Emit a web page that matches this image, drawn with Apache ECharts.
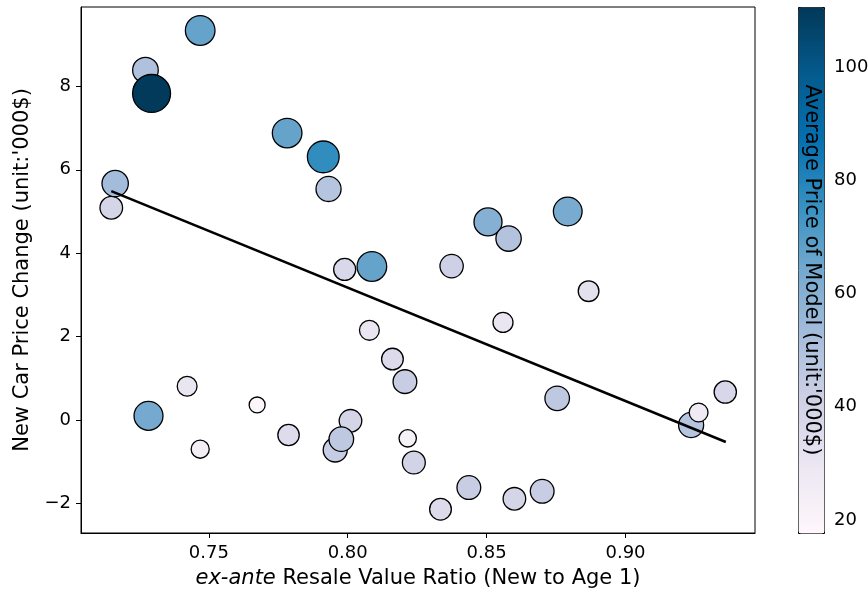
<!DOCTYPE html>
<html>
<head>
<meta charset="utf-8">
<script src="https://cdn.jsdelivr.net/npm/echarts@6/dist/echarts.min.js"></script>
<style>html,body{margin:0;padding:0;background:#fff;}#c{width:868px;height:594px;}</style>
</head>
<body>
<div id="c"></div>
<script>
// Resale value ratio (x), new car price change (y, '000$), average model price ('000$)
const resaleRatio = [0.7469,0.7272,0.7294,0.7782,0.7912,0.7931,0.7149,0.7163,0.7989,0.8087,
  0.7283,0.7422,0.7469,0.7674,0.7787,0.8010,0.7955,0.7977,0.8078,0.8161,0.8206,0.8216,0.8238,
  0.8505,0.8579,0.8792,0.8374,0.8867,0.8559,0.8754,0.9236,0.9263,0.9359,0.8436,0.8334,0.8600,0.8700];
const priceChange = [9.34,8.39,7.83,6.88,6.31,5.54,5.09,5.67,3.61,3.68,
  0.10,0.81,-0.70,0.36,-0.36,-0.02,-0.72,-0.46,2.15,1.46,0.92,-0.44,-1.02,
  4.75,4.35,5.00,3.69,3.09,2.34,0.52,-0.12,0.18,0.67,-1.62,-2.14,-1.89,-1.71];
const avgPrice = [67,50,110,67,77,48,39,53,37,67,
  64,30,25,19.5,35,39,44,46,30,36,43,23,40,
  60,49,63,41.5,32.6,30.5,46,48,27,38,43,36,39,43];
// fitted line endpoints
const fitX = [0.7149, 0.9361];
const fitY = [5.49, -0.528];
const xTicks = [0.75, 0.80, 0.85, 0.90];
const yTicks = [-2, 0, 2, 4, 6, 8];
const cbTicks = [20, 40, 60, 80, 100];
const cbRange = [17.7, 110.6];
const pubu = ['#fff7fb','#ece7f2','#d0d1e6','#a6bddb','#74a9cf','#3690c0','#0570b0','#045a8d','#023858'];

const pts = resaleRatio.map((x, i) => [x, priceChange[i], avgPrice[i]]);
const fitLine = fitX.map((x, i) => [x, fitY[i]]);
const FONT = 'DejaVu Sans';

const chart = echarts.init(document.getElementById('c'), null, {renderer: 'canvas'});
chart.setOption({
  animation: false,
  backgroundColor: '#fff',
  textStyle: {fontFamily: FONT},
  grid: [
    {left: 81, top: 7, right: 113, bottom: 61, show: true, borderColor: '#000', borderWidth: 1, backgroundColor: 'transparent', outerBoundsMode: 'none'},
    {left: 798, top: 7, width: 26, bottom: 61, show: false, outerBoundsMode: 'none'}
  ],
  xAxis: [
    {
      type: 'value', gridIndex: 0, min: 0.704, max: 0.9466,
      splitLine: {show: false},
      axisLine: {show: true, onZero: false, lineStyle: {color: '#000', width: 1}},
      axisTick: {show: true, length: 5, lineStyle: {color: '#000', width: 1}, customValues: xTicks},
      axisLabel: {show: true, margin: 11, fontSize: 18, color: '#000', fontFamily: FONT,
        customValues: xTicks, formatter: v => v.toFixed(2)},
      name: '{i|ex-ante} Resale Value Ratio (New to Age 1)',
      nameLocation: 'middle', nameGap: 35,
      nameTextStyle: {fontSize: 21, color: '#000', fontFamily: FONT,
        rich: {i: {fontStyle: 'italic', fontSize: 21, color: '#000', fontFamily: FONT}}}
    },
    {type: 'value', gridIndex: 1, min: 0, max: 1, show: false}
  ],
  yAxis: [
    {
      type: 'value', gridIndex: 0, min: -2.71, max: 9.904,
      splitLine: {show: false},
      axisLine: {show: true, onZero: false, lineStyle: {color: '#000', width: 1}},
      axisTick: {show: true, length: 5, lineStyle: {color: '#000', width: 1}, customValues: yTicks},
      axisLabel: {show: true, margin: 10, fontSize: 18, color: '#000', fontFamily: FONT,
        customValues: yTicks, formatter: v => (v < 0 ? '\u2212' + Math.abs(v) : String(v))},
      name: "New Car Price Change (unit:'000$)",
      nameLocation: 'middle', nameGap: 48, nameRotate: 90,
      nameTextStyle: {fontSize: 21, color: '#000', fontFamily: FONT}
    },
    {
      type: 'value', gridIndex: 1, position: 'right', min: cbRange[0], max: cbRange[1],
      splitLine: {show: false},
      axisLine: {show: false},
      axisTick: {show: true, length: 5, lineStyle: {color: '#000', width: 1}, customValues: cbTicks},
      axisLabel: {show: true, margin: 10, fontSize: 18, color: '#000', fontFamily: FONT, customValues: cbTicks}
    }
  ],
  visualMap: {
    type: 'continuous', seriesIndex: 0, dimension: 2,
    min: cbRange[0], max: cbRange[1],
    orient: 'vertical', left: 798, top: 7, padding: 0,
    itemWidth: 26, itemHeight: 526,
    calculable: false, text: null, showLabel: false,
    borderColor: '#000', borderWidth: 1,
    inRange: {color: pubu}
  },
  graphic: [{
    type: 'text', x: 811, y: 270, rotation: -Math.PI / 2, z: 100,
    style: {text: "Average Price of Model (unit:'000$)", fontSize: 21, fontFamily: FONT,
      fill: '#000', align: 'center', verticalAlign: 'middle'}
  }],
  series: [
    {
      type: 'scatter', xAxisIndex: 0, yAxisIndex: 0, data: pts,
      symbol: 'circle',
      symbolSize: d => 3.62 * Math.sqrt(d[2]),
      itemStyle: {borderColor: '#000', borderWidth: 1.3, opacity: 1},
      z: 2
    },
    {
      type: 'line', xAxisIndex: 0, yAxisIndex: 0, data: fitLine,
      symbol: 'none', lineStyle: {color: '#000', width: 2.5}, z: 5, silent: true
    },
    {type: 'scatter', xAxisIndex: 1, yAxisIndex: 1, data: []}
  ]
});
</script>
</body>
</html>
